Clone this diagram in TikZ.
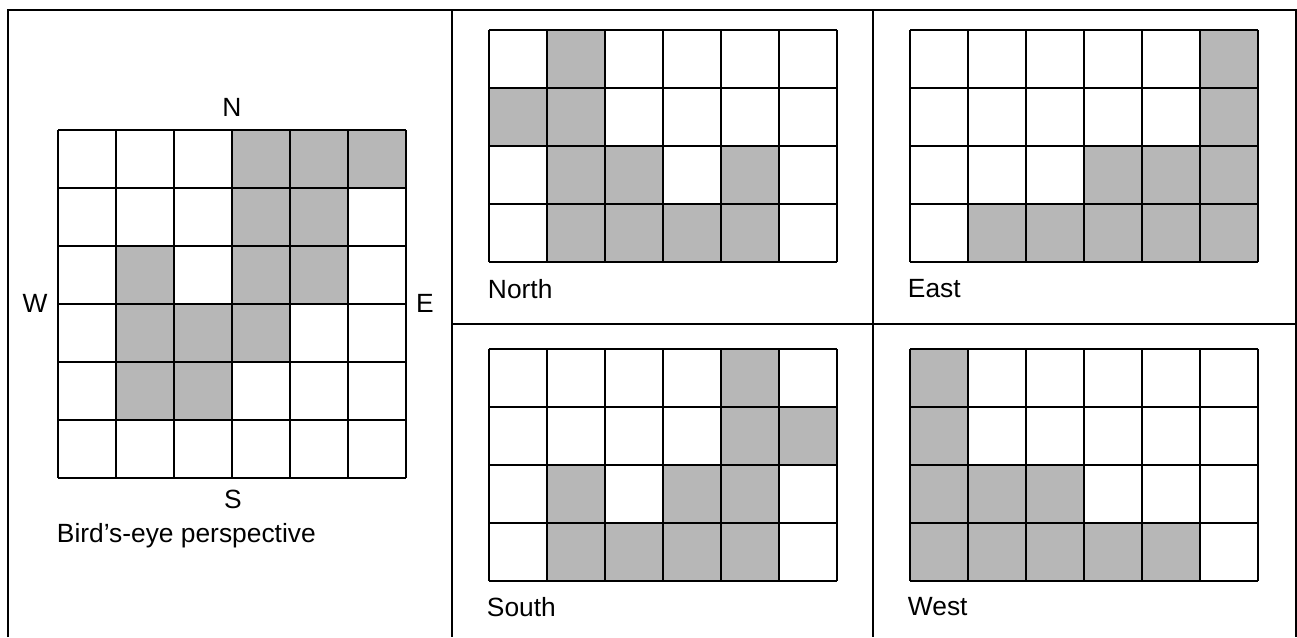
\documentclass[tikz,border=0pt]{standalone}
\usepackage{fontspec}
\setmainfont{Liberation Sans}
\definecolor{cellgray}{RGB}{183,183,183}
\begin{document}
\begin{tikzpicture}[x=0.02cm,y=-0.02cm,line width=1.1pt,
    shade/.style={fill=cellgray},
    gridline/.style={draw=black},
    label/.style={font=\fontsize{15}{18}\selectfont,inner sep=0pt}]
  \useasboundingbox (0,0) rectangle (1297,637);
  % frame and panels
  \draw (8,637) -- (8,10) -- (1296,10) -- (1296,637);
  \draw (452,10) -- (452,637);
  \draw (873,10) -- (873,637);
  \draw (452,324) -- (1296,324);

  % bird's-eye grid
  \begin{scope}[shift={(58,130)}]
    \foreach \c/\r in {3/0,4/0,5/0,3/1,4/1,1/2,3/2,4/2,1/3,2/3,3/3,1/4,2/4}
      \fill[shade] (58*\c,58*\r) rectangle ++(58,58);
    \foreach \c in {0,...,6} \draw[gridline] (58*\c,0) -- (58*\c,348);
    \foreach \r in {0,...,6} \draw[gridline] (0,58*\r) -- (348,58*\r);
  \end{scope}
  \node[label] (nlbl) at (232,107) {N};
  \node[label] (slbl) at (233,499) {S};
  \node[label] (wlbl) at (35,303) {W};
  \node[label] (elbl) at (425,303) {E};
  \node[label,anchor=west] (birdlbl) at (56,536) {Bird’s-eye perspective};

  % north view
  \begin{scope}[shift={(489,30)}]
    \foreach \c/\r in {1/0,0/1,1/1,1/2,2/2,4/2,1/3,2/3,3/3,4/3}
      \fill[shade] (58*\c,58*\r) rectangle ++(58,58);
    \foreach \c in {0,...,6} \draw[gridline] (58*\c,0) -- (58*\c,232);
    \foreach \r in {0,...,4} \draw[gridline] (0,58*\r) -- (348,58*\r);
  \end{scope}
  \node[label,anchor=west] (northlbl) at (487,289) {North};

  % east view
  \begin{scope}[shift={(910,30)}]
    \foreach \c/\r in {5/0,5/1,3/2,4/2,5/2,1/3,2/3,3/3,4/3,5/3}
      \fill[shade] (58*\c,58*\r) rectangle ++(58,58);
    \foreach \c in {0,...,6} \draw[gridline] (58*\c,0) -- (58*\c,232);
    \foreach \r in {0,...,4} \draw[gridline] (0,58*\r) -- (348,58*\r);
  \end{scope}
  \node[label,anchor=west] (eastlbl) at (907,289) {East};

  % south view
  \begin{scope}[shift={(489,349)}]
    \foreach \c/\r in {4/0,4/1,5/1,1/2,3/2,4/2,1/3,2/3,3/3,4/3}
      \fill[shade] (58*\c,58*\r) rectangle ++(58,58);
    \foreach \c in {0,...,6} \draw[gridline] (58*\c,0) -- (58*\c,232);
    \foreach \r in {0,...,4} \draw[gridline] (0,58*\r) -- (348,58*\r);
  \end{scope}
  \node[label,anchor=west] (southlbl) at (486,607) {South};

  % west view
  \begin{scope}[shift={(910,349)}]
    \foreach \c/\r in {0/0,0/1,0/2,1/2,2/2,0/3,1/3,2/3,3/3,4/3}
      \fill[shade] (58*\c,58*\r) rectangle ++(58,58);
    \foreach \c in {0,...,6} \draw[gridline] (58*\c,0) -- (58*\c,232);
    \foreach \r in {0,...,4} \draw[gridline] (0,58*\r) -- (348,58*\r);
  \end{scope}
  \node[label,anchor=west] (westlbl) at (907,607) {West};
\end{tikzpicture}
\end{document}
